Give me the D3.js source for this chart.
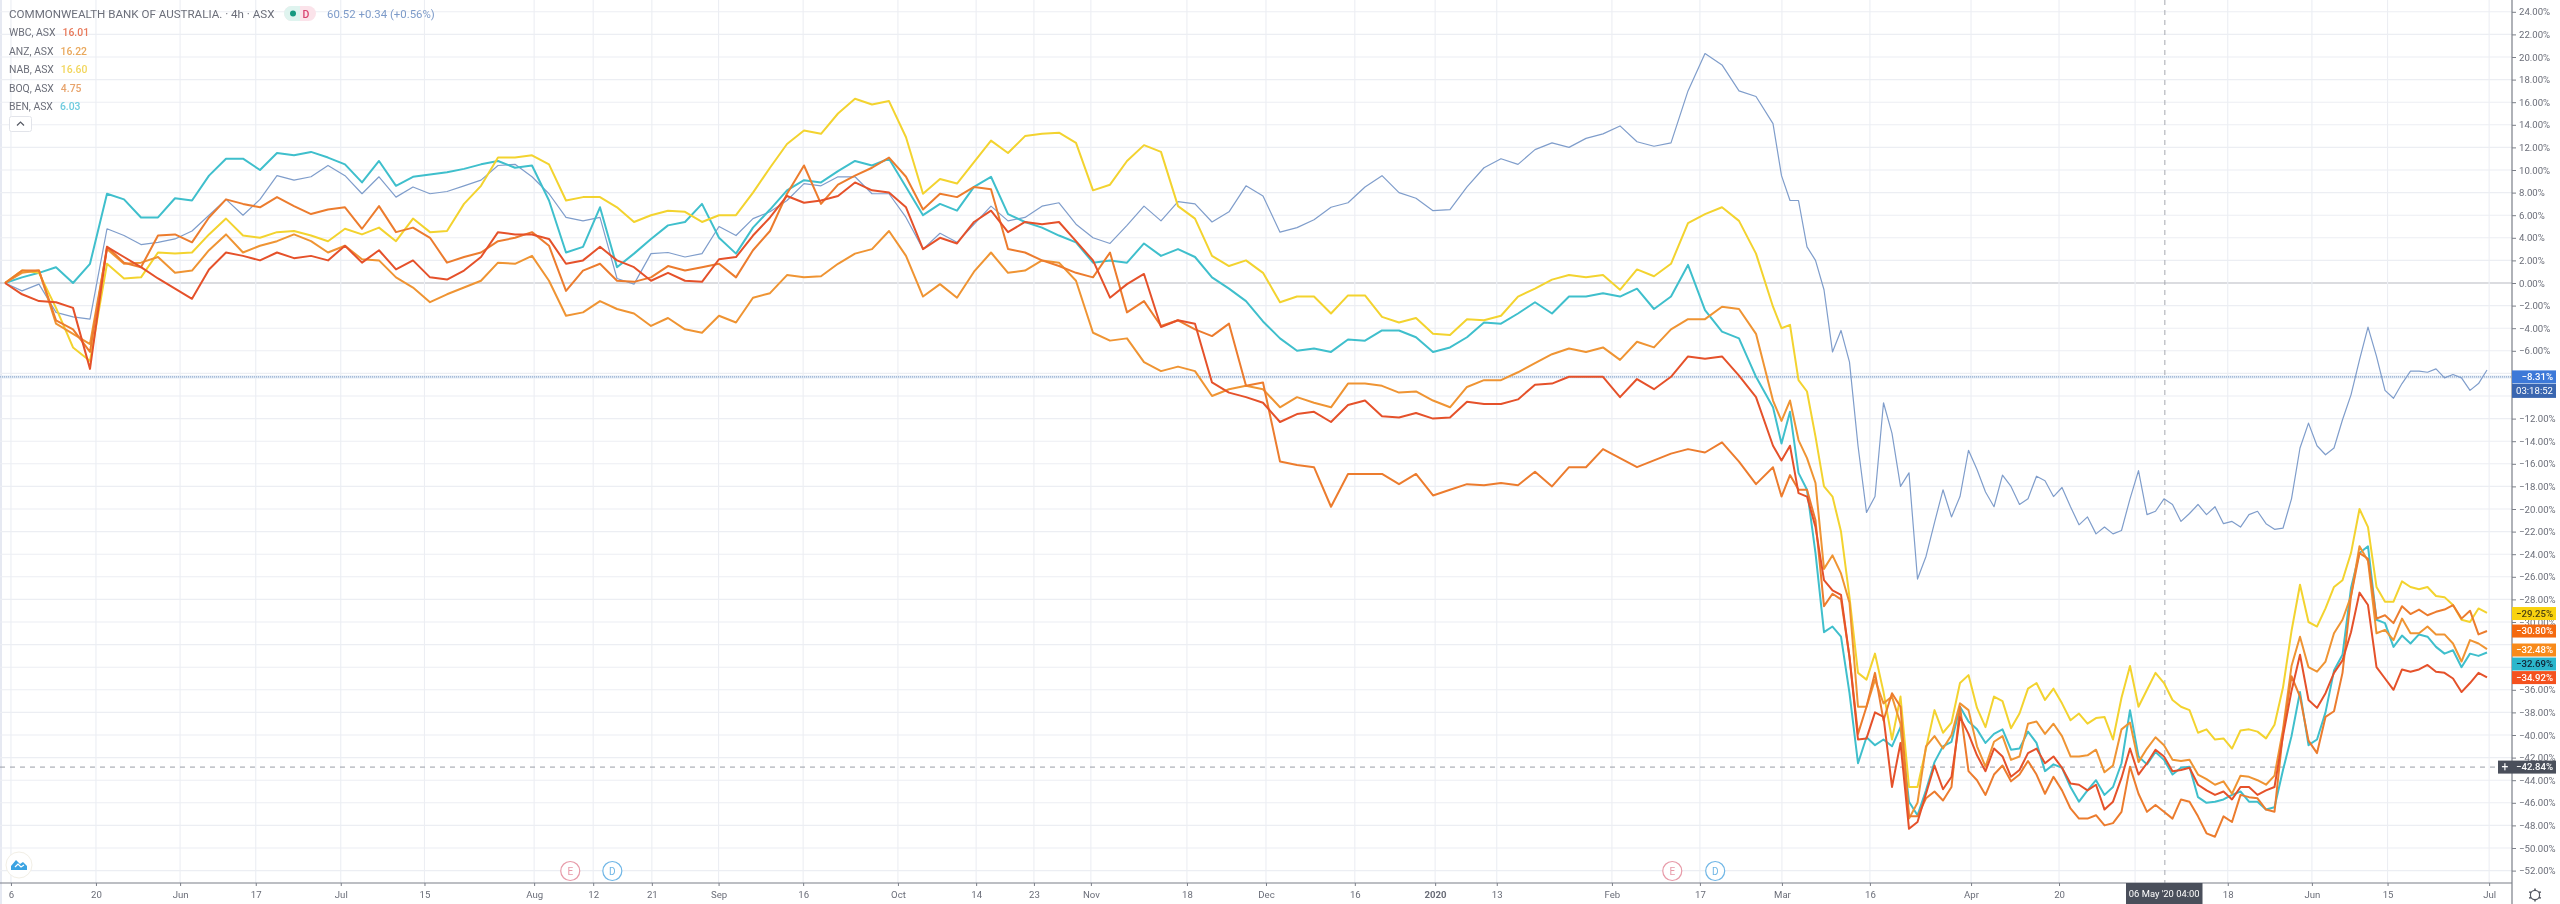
<!DOCTYPE html>
<html><head><meta charset="utf-8">
<script src="https://cdnjs.cloudflare.com/ajax/libs/d3/7.8.5/d3.min.js"></script>
<style>
html,body{margin:0;padding:0;background:#fff;overflow:hidden}
svg{display:block;filter:blur(0.4px)}
text{font-family:Roboto,"Liberation Sans",sans-serif}
</style></head><body><div id="c"></div>
<script>
// Percent change from the start, sampled along the 4h bar index
const sampleBars = d3.range(0,416,4).concat(d3.range(416,586,2));

const CBA = [0,-.7,-.1,-2.6,-3,-3.2,4.8,4.2,3.4,3.6,3.9,4.6,6,7.4,6,7.4,9.5,9.1,9.4,10.4,9.5,7.9,9.4,7.6,8.5,7.9,8.1,8.6,9.1,10.4,10.5,9.4,7.9,5.8,5.5,5.8,.4,-.1,
2.6,2.7,2.3,2.6,5,4.2,5.7,6.3,7.3,8.8,8.6,9.4,9.4,7.9,7.9,5.8,3,4.4,3.6,5.2,6.8,5.5,5.8,6.8,7.1,5.2,4,3.5,5.1,6.8,5.5,7.2,7,5.4,6.3,8.6,7.7,
4.5,4.9,5.6,6.7,7.1,8.5,9.5,8,7.5,6.4,6.5,8.5,10.2,11,10.5,11.8,12.4,12,12.8,13.2,13.9,12.5,12.1,12.4,17,20.3,19.3,17,16.5,14.1,9.5,
7.3,7.3,3.2,2,-.6,-6.1,-4.2,-7,-14.4,-20.3,-18.9,-10.6,-13.3,-18,-16.8,
-26.2,-24.2,-21.2,-18.3,-20.7,-18.9,-14.8,-16.5,-18.5,-19.8,-17,-18,-19.6,-19.1,-17.1,-17.5,-18.9,-18.1,-19.8,-21.4,-20.7,-22.2,-21.6,-22.2,-21.9,-19.1,-16.6,-20.5,-20.2,-19.1,-19.6,-21.1,-20.4,-19.6,-20.5,-19.8,-21.3,-21.1,-21.6,-20.5,-20.2,-21.3,-21.8,-21.7,-19.1,-14.6,
-12.4,-14.4,-15.2,-14.6,-12.1,-9.9,-6.8,-3.9,-6.5,-9.5,-10.2,-8.9,-7.8,-7.8,-7.9,-7.6,-8.4,-8.1,-8.4,-9.5,-8.9,-7.7,-8.1];

const BEN = [0,.5,.9,1.4,0,1.7,7.9,7.4,5.8,5.8,7.5,7.3,9.5,11,11,10,11.5,11.3,11.6,11.1,10.5,8.9,10.8,8.6,9.4,9.6,9.8,10.1,10.5,10.8,10.2,10.4,7.3,2.7,3.2,6.7,1.4,2.6,
3.9,5.1,5.4,7,4,2.6,4.9,6.5,8.2,9.1,8.9,9.9,10.8,10.4,11,8.5,6,7,6.4,8.5,9.4,6.1,5.4,4.9,4.2,3.6,1.8,2,1.8,3.5,2.4,3,2.3,.5,-.5,-1.6,-3.4,
-4.9,-6,-5.8,-6.1,-5,-5.1,-4.2,-4.2,-4.8,-6.1,-5.7,-4.8,-3.5,-3.6,-2.7,-1.7,-2.7,-1.2,-1.2,-.9,-1.2,-.5,-2.3,-1.2,1.6,-2.4,-4.3,-4.9,-8.3,-11,
-14.2,-11.4,-16.8,-18.3,-23.9,-30.9,-30.4,-31.3,-36.3,-42.5,-40.2,-40.9,-40.4,-41,-39.3,
-45.9,-47.1,-44.9,-42.4,-41,-40.6,-37.5,-38.8,-39.5,-40.7,-39.9,-39.5,-41.3,-41.2,-39.7,-40.7,-43.2,-42.6,-42.9,-44.6,-45.9,-44.9,-44,-45.3,-44.6,-42.5,-37.8,-41.9,-42.6,-41.5,-42.2,-43.5,-42.9,-42.8,-45.5,-46,-45.9,-45.7,-45.3,-45,-45.9,-45.9,-46.6,-46.4,-43.1,-40.1,
-36.2,-40.9,-40.4,-38,-34.3,-32.9,-27,-23.9,-23.3,-29.8,-30.1,-32.2,-31.2,-31.9,-31.1,-31.3,-32.2,-32.8,-32.5,-34,-32.8,-33,-32.7];

const NAB = [0,1.1,.9,-2.2,-5.7,-6.9,1.7,.4,.5,2.7,2.6,2.7,4.3,5.7,4.2,4,4.5,4.6,4.2,3.7,4.8,4.3,4.9,3.7,5.7,4.5,4.6,7,8.6,11.1,11.1,11.3,10.5,7.3,7.6,7.6,6.7,5.4,
6,6.4,6.3,5.4,6,6,8,10.2,12.3,13.5,13.2,15,16.3,15.8,16.1,12.9,7.9,9.2,8.8,10.7,12.6,11.5,13,13.2,13.3,12.4,8.2,8.7,10.8,12.2,11.6,6.8,5.7,2.4,1.5,2,.9,
-1.7,-1.2,-1.2,-2.7,-1.1,-1.1,-3,-3.5,-3.1,-4.5,-4.6,-3.2,-3.3,-2.9,-1.2,-.5,.3,.7,.5,.7,-.6,1.2,.6,1.7,5.3,6.1,6.7,5.5,2.6,-2.1,
-4,-3.7,-8.6,-9.6,-13.6,-18,-18.9,-22,-27.8,-34.5,-35.1,-32.8,-36.2,-40.4,-36.6,
-44.6,-44.6,-41.2,-37.8,-39.8,-38.9,-35.4,-34.7,-37.6,-39.3,-36.6,-37,-39.4,-38.1,-35.9,-35.4,-36.9,-35.9,-37.2,-38.7,-38.1,-39,-38.5,-38.4,-40.4,-36.7,-33.9,-37.5,-36,-34.5,-35.4,-36.9,-37.5,-37.8,-39.8,-39.5,-40.4,-40.3,-41.2,-39.6,-39.5,-39.7,-40.3,-39.1,-35.8,-30.8,
-26.7,-30,-30.4,-28.8,-26.9,-26.3,-23.9,-20,-21.6,-26.9,-28.2,-28.2,-26.4,-26.9,-27.1,-26.9,-27.7,-27.8,-28.5,-29.8,-30,-28.8,-29.2];

const ANZ = [0,.9,1.1,-3.6,-4.5,-5.4,3,1.7,1.8,2.3,.9,1.1,2.9,4.3,2.7,3.3,3.7,4.3,3.7,2.7,3.3,2.1,2,.5,-.4,-1.7,-1,-.4,.2,1.8,1.7,2.4,.2,-2.9,-2.6,-1.6,-2.3,-2.7,
-3.8,-3.1,-4.1,-4.4,-2.9,-3.5,-1.3,-.9,.7,.5,.6,1.7,2.6,3,4.6,2.4,-1.2,-.1,-1.3,1,2.7,.9,1.1,2,1.8,.2,-4.4,-5.1,-4.9,-7,-7.8,-7.4,-7.8,-10,-9.4,-9.1,-9.4,
-11,-10.1,-10.6,-11,-8.9,-8.9,-9.1,-9.7,-9.6,-10.4,-11,-9.2,-8.6,-8.6,-7.9,-7.1,-6.3,-5.8,-6.1,-5.7,-6.8,-5.2,-5.7,-4.1,-3.2,-3.2,-2.1,-2.3,-4.5,-10.4,
-12.2,-10.4,-13.9,-15.5,-17.7,-25.3,-24.1,-25.7,-28.3,-37.5,-37.5,-35.1,-37.2,-36.6,-39,
-47.4,-46,-41,-40.1,-41.2,-40,-37.2,-37.8,-41,-42.8,-40.6,-40.1,-42.2,-41.9,-39,-38.8,-39.9,-39,-40.1,-41.9,-41.9,-41.8,-41.3,-43.3,-42.7,-39.5,-38.9,-42.4,-41.2,-40.2,-40.9,-42.2,-42.3,-42.2,-43.5,-43.9,-44.4,-44.1,-45.2,-43.6,-43.7,-44,-44.4,-43.6,-39.5,-33.9,
-31.3,-34,-34.4,-33.5,-31,-29.8,-27.7,-23.3,-24.6,-31,-30.7,-31.6,-29.7,-31,-31,-30.4,-31.1,-31.1,-31.9,-33.5,-31.6,-31.9,-32.4];

const BOQ = [0,1.1,1.1,-3.3,-4.1,-6.1,3.2,1.8,1.4,4.2,4.3,3.6,5.8,7.4,7,6.7,7.6,6.8,6.1,6.5,6.7,4.8,6.8,4.5,4.9,4,1.8,2.3,2.7,3.7,4,4.5,3.3,-.7,1.1,1.7,.2,.1,
.5,1.5,1.1,1.4,1.7,.5,2.9,4.6,7.9,10.4,7,8.7,9.5,10.2,11.1,9.4,6.5,7.9,7.6,8.5,8.3,3,2.7,2,1.5,.9,.5,2.7,-2.6,-1.6,-3.8,-3.3,-4.1,-4.7,-3.6,-9.1,-8.8,
-15.8,-16.1,-16.3,-19.8,-16.9,-16.9,-16.9,-17.8,-16.9,-18.8,-18.3,-17.8,-17.9,-17.7,-17.9,-16.7,-18,-16.3,-16.3,-14.7,-15.5,-16.3,-15.7,-15.1,-14.7,-15,-14.1,-15.8,-17.8,-16.3,
-18.9,-17,-18.3,-18.3,-21,-28.6,-27.5,-28,-33.1,-39.9,-37.5,-34.5,-38.7,-36.3,-37.5,
-47.2,-47.2,-45.6,-45,-45.8,-44.6,-37.5,-43.2,-44,-45.3,-43.5,-42.7,-44.1,-43.5,-42.3,-43.5,-45.2,-43.7,-44.9,-46.5,-47.4,-47.4,-47.1,-48,-47.8,-46.8,-42.8,-45.2,-46.8,-46.2,-46.8,-47.4,-45.7,-45.9,-47.2,-48.7,-49,-47.2,-47.7,-45.3,-45.5,-45.6,-46.6,-46.8,-39.8,-34.8,
-36.6,-40.5,-41.6,-38.4,-37.9,-34.5,-27.7,-23.9,-24.4,-29.7,-29.4,-30.1,-28.6,-29.3,-28.9,-29.4,-29.1,-28.9,-28.5,-29.7,-29,-31.1,-30.8];

const WBC = [0,-1,-1.6,-1.7,-2.2,-7.6,3.2,2.3,1.4,.4,-.5,-1.4,1.2,2.7,2.4,2,2.7,2.2,2.4,2,3.3,1.8,2.9,1.2,2,.5,.3,1.1,2.3,4.5,4.3,4.3,3.9,1.7,2,3.2,2,1.4,
.2,.9,.2,.1,2.1,2.3,4.2,5.8,7.7,7.1,7.3,7.7,8.9,8.2,8,6.7,3,4,3.5,5.4,6.4,4.5,5.4,5.2,5.4,3.7,2,-1.3,-.1,.8,-3.9,-3.3,-3.6,-8.8,-9.7,-10.1,-10.6,
-12.3,-11.6,-11.4,-12.3,-10.8,-10.4,-11.8,-11.9,-11.5,-12,-11.9,-10.5,-10.7,-10.7,-10.3,-9,-8.9,-8.3,-8.3,-8.3,-10.1,-8.5,-9.4,-8.3,-6.5,-6.7,-6.5,-8.2,-10.1,-14.4,
-15.7,-14.4,-18.6,-18.9,-21.6,-26.3,-27.2,-27.6,-33.1,-40.4,-40.3,-38,-38.4,-44.6,-40.7,
-48.3,-47.7,-45.2,-42.7,-44.8,-43.7,-38.4,-39.9,-41.8,-43.2,-41.2,-41.9,-43.7,-43.1,-41.6,-41.2,-42.5,-41.9,-42.9,-44.3,-44.4,-44.9,-44.4,-46.6,-45.9,-43.8,-41.2,-43.5,-42.5,-41.3,-41.9,-43.2,-43.1,-42.9,-44.4,-44.9,-45.3,-45,-45.7,-44.6,-44.6,-45.3,-44.9,-44.6,-40.1,-36.1,
-32.9,-36.9,-37.6,-36.3,-34.5,-33.4,-30.9,-27.4,-28.5,-34,-35,-36,-34.2,-34.4,-34.2,-33.8,-34.4,-34.5,-35,-36.2,-35.4,-34.5,-34.9];

// Draw order, bottom to top
const seriesNames = ["CBA","BEN","NAB","ANZ","BOQ","WBC"];
const seriesValues = [CBA,BEN,NAB,ANZ,BOQ,WBC];
const seriesColors = ["#7f9dcb","#3fbfcc","#f3d32f","#ef9433","#ec7c2e","#e5512a"];
const seriesWidths = [1.2,2,2,2,2,2];

const yTicks = d3.range(24,-53,-2);
// axis labels that sit fully behind the price badges in the reference
const yTicksCovered = [-8,-10,-32,-34];
const xTickBars = [1.4,21.4,41.2,59,79,98.7,124.5,138.4,152.2,167.9,187.8,210.1,228.5,242.1,255.5,278.1,296.7,317.6,336.5,351,378.1,398.8,418.1,438.8,462.6,483.3,501.2,523,542.8,560.6,584.5];
const xTickLabels = ["6","20","Jun","17","Jul","15","Aug","12","21","Sep","16","Oct","14","23","Nov","18","Dec","16","2020","13","Feb","17","Mar","16","Apr","20","","18","Jun","15","Jul"];

const legendRows = [["WBC, ASX","16.01","#e8795a"],["ANZ, ASX","16.22","#e9a85c"],["NAB, ASX","16.60","#f2d65c"],["BOQ, ASX","4.75","#e8a46c"],["BEN, ASX","6.03","#6ecbdf"]];
const lastBadges = [["−29.25%",-29.25,"#f9d20f","#4a3f10"],["−30.80%",-30.8,"#f4690f","#fff"],["−32.48%",-32.48,"#f88a1b","#fff"],["−32.69%",-33.72,"#2bb6cc","#123"],["−34.92%",-34.92,"#f4511e","#fff"]];
const priceValue = -8.31, crossValue = -42.84, crossBar = 508.2;
const earnings = [["E",133,"#e79aa8"],["D",142.9,"#6fb6e6"],["E",392.3,"#e79aa8"],["D",402.4,"#6fb6e6"]];

const W=2560,H=904,axisX=2512,axisY=883;
const x=d3.scaleLinear().domain([0,585]).range([5,2491.25]);
const y=d3.scaleLinear().domain([24,-52]).range([11.8,870.6]);
const svg=d3.select("#c").append("svg").attr("width",W).attr("height",H);
svg.append("rect").attr("width",W).attr("height",H).attr("fill","#fff");
svg.append("rect").attr("width",2).attr("height",H).attr("fill","#e6e9f2");

// grid
svg.append("g").selectAll("line").data(yTicks).join("line")
 .attr("x1",0).attr("x2",axisX).attr("y1",d=>y(d)).attr("y2",d=>y(d))
 .attr("stroke",d=>d===0?"#b8bac1":"#eceef3").attr("stroke-width",1.1);
svg.append("g").selectAll("line").data(xTickBars).join("line")
 .attr("x1",d=>x(d)).attr("x2",d=>x(d)).attr("y1",0).attr("y2",axisY)
 .attr("stroke","#eceef3").attr("stroke-width",1.1);

// price and crosshair lines
svg.append("line").attr("x1",0).attr("x2",axisX).attr("y1",y(priceValue)).attr("y2",y(priceValue))
 .attr("stroke","#e3ebf5").attr("stroke-width",3);
svg.append("line").attr("x1",0).attr("x2",axisX).attr("y1",y(priceValue)).attr("y2",y(priceValue))
 .attr("stroke","#7d9cc4").attr("stroke-width",1).attr("stroke-dasharray","1 1");
svg.append("line").attr("x1",0).attr("x2",axisX).attr("y1",y(crossValue)).attr("y2",y(crossValue))
 .attr("stroke","#9a9da6").attr("stroke-width",1).attr("stroke-dasharray","5 5");
svg.append("line").attr("x1",x(crossBar)).attr("x2",x(crossBar)).attr("y1",0).attr("y2",axisY)
 .attr("stroke","#a6a8b0").attr("stroke-width",1).attr("stroke-dasharray","5 5");

// series
const line=d3.line().x((d,i)=>x(sampleBars[i])).y(d=>y(d)).curve(d3.curveLinear);
svg.append("g").selectAll("path").data(seriesValues).join("path")
 .attr("data-name",(d,i)=>seriesNames[i]).attr("d",line).attr("fill","none")
 .attr("stroke",(d,i)=>seriesColors[i]).attr("stroke-width",(d,i)=>seriesWidths[i]).attr("stroke-linejoin","round");

// axes frame
svg.append("line").attr("x1",0).attr("x2",axisX).attr("y1",axisY).attr("y2",axisY).attr("stroke","#7b7f88").attr("stroke-width",1.2);
svg.append("line").attr("x1",axisX).attr("x2",axisX).attr("y1",0).attr("y2",H).attr("stroke","#7b7f88").attr("stroke-width",1.2);

const yAxis=d3.axisRight(y).tickValues(yTicks).tickSize(4).tickPadding(3)
 .tickFormat(d=>yTicksCovered.includes(d)?"":(d<0?"−":"")+Math.abs(d).toFixed(2)+"%");
const gy=svg.append("g").attr("transform",`translate(${axisX},0)`).call(yAxis);
gy.select(".domain").remove();
gy.selectAll("line").attr("stroke","#7b7f88");
gy.selectAll("text").attr("fill","#6a6d78").attr("font-size",9.6);

const xAxis=d3.axisBottom(x).tickValues(xTickBars).tickSize(3).tickPadding(5).tickFormat((d,i)=>xTickLabels[i]);
const gx=svg.append("g").attr("transform",`translate(0,${axisY})`).call(xAxis);
gx.select(".domain").remove();
gx.selectAll("line").attr("stroke","#7b7f88");
gx.selectAll("text").attr("fill","#6a6d78").attr("font-size",9.6).attr("font-weight",(d,i)=>xTickLabels[i]==="2020"?700:400);

// y badges
function badge(v,label,bg,fg,x0=axisX,w=44,h=13){
 svg.append("rect").attr("x",x0).attr("y",y(v)-h/2).attr("width",w).attr("height",h).attr("fill",bg);
 svg.append("text").attr("x",x0+w-3).attr("y",y(v)+3.4).attr("text-anchor","end").attr("font-size",9.6).attr("font-weight",500).attr("fill",fg).text(label);
}
lastBadges.forEach(b=>badge(b[1],b[0],b[2],b[3]));
badge(priceValue,"−8.31%","#3d79d8","#fff");
svg.append("rect").attr("x",axisX).attr("y",y(priceValue)+7).attr("width",44).attr("height",14).attr("fill","#3a66b0");
svg.append("text").attr("x",axisX+41).attr("y",y(priceValue)+17.4).attr("text-anchor","end").attr("font-size",9.6).attr("fill","#fff").text("03:18:52");
badge(crossValue,"−42.84%","#4a4f5b","#fff");
svg.append("rect").attr("x",2498).attr("y",y(crossValue)-6.5).attr("width",14).attr("height",13).attr("fill","#4a4f5b");
svg.append("text").attr("x",2505).attr("y",y(crossValue)+4).attr("text-anchor","middle").attr("font-size",12).attr("fill","#fff").text("+");

// time crosshair label
svg.append("rect").attr("x",2126).attr("y",axisY).attr("width",76.5).attr("height",21).attr("fill","#4a4f5b");
svg.append("text").attr("x",2164.2).attr("y",897).attr("text-anchor","middle").attr("font-size",9.4).attr("fill","#fff").text("06 May '20  04:00");

// gear
const gear=svg.append("g").attr("transform","translate(2535,895)");
gear.append("circle").attr("r",4.6).attr("fill","none").attr("stroke","#555963").attr("stroke-width",1.2);
gear.selectAll("line").data(d3.range(0,360,60)).join("line").attr("x1",0).attr("x2",0).attr("y1",-4.6).attr("y2",-6.6)
 .attr("stroke","#555963").attr("stroke-width",1.6).attr("transform",d=>`rotate(${d})`);

// event markers
earnings.forEach(e=>{
 const g=svg.append("g").attr("transform",`translate(${x(e[1])},871)`);
 g.append("circle").attr("r",9.5).attr("fill","#fff").attr("stroke",e[2]).attr("stroke-width",1.2);
 g.append("text").attr("text-anchor","middle").attr("y",3.6).attr("font-size",10).attr("fill",e[2]).text(e[0]);
});

// logo
const logo=svg.append("g").attr("transform","translate(19,865)");
logo.append("circle").attr("r",13).attr("fill","#fff").attr("stroke","#f2efe6");
logo.append("path").attr("d","M-8,4 L-8,1 L-3,-5 L1,-1 L4,-3 L8,1 L8,5 L-8,5 Z").attr("fill","#3ba3e2");
logo.append("path").attr("d","M-4,2 L-1,-1 L2,2 L5,0").attr("fill","none").attr("stroke","#fff").attr("stroke-width",1.2);

// legend
svg.append("text").attr("x",9).attr("y",18).attr("font-size",11.6).attr("fill","#6c6f7a").text("COMMONWEALTH BANK OF AUSTRALIA. · 4h · ASX");
svg.append("rect").attr("x",284).attr("y",6).attr("width",32).attr("height",15).attr("rx",7.5).attr("fill","#fbe3ea");
svg.append("path").attr("d","M291.5,6 A7.5,7.5 0 0 0 291.5,21 L300,21 L300,6 Z").attr("fill","#dff4ef");
svg.append("circle").attr("cx",293).attr("cy",13.5).attr("r",3).attr("fill","#16997f");
svg.append("text").attr("x",306).attr("y",17.5).attr("text-anchor","middle").attr("font-size",10.5).attr("font-weight",500).attr("fill","#d9426f").text("D");
svg.append("text").attr("x",327).attr("y",18).attr("font-size",11.4).attr("fill","#7d9bc9").text("60.52 +0.34 (+0.56%)");
legendRows.forEach((r,i)=>{
 const ly=36+i*18.5;
 const t=svg.append("text").attr("x",9).attr("y",ly).attr("font-size",10.4).attr("fill","#6c6f7a").text(r[0]);
 const w=t.node().getComputedTextLength();
 svg.append("text").attr("x",9+w+7).attr("y",ly).attr("font-size",10.4).attr("font-weight",500).attr("fill",r[2]).text(r[1]);
});
svg.append("rect").attr("x",9.5).attr("y",116.5).attr("width",22).attr("height",15).attr("rx",2).attr("fill","#fff").attr("stroke","#e2e4ea");
svg.append("path").attr("d","M17,125.5 L20.5,122 L24,125.5").attr("fill","none").attr("stroke","#555963").attr("stroke-width",1.2);
</script></body></html>
